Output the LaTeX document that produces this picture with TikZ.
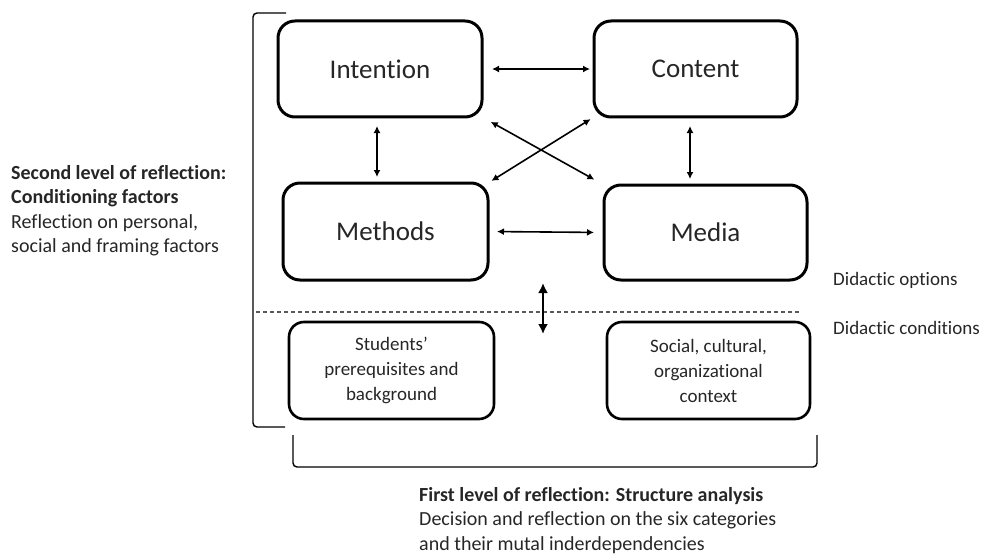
\documentclass[tikz,border=0pt]{standalone}
\usepackage{fontspec}
\setmainfont{Carlito}[Ligatures=NoCommon]
\usetikzlibrary{arrows.meta}
\begin{document}
\begin{tikzpicture}[x=1pt,y=-1pt,
  bigbox/.style={draw=black, line width=3pt, rounded corners=17pt, outer sep=0pt, inner sep=0pt,
    font=\fontsize{27}{32}\selectfont, text=black!85},
  smallbox/.style={draw=black, line width=2.6pt, rounded corners=15pt, outer sep=0pt, inner sep=0pt,
    align=center, font=\fontsize{19}{25}\selectfont, text=black!85},
  arr/.style={line width=1.6pt, {Latex[length=7pt,width=7pt]}-{Latex[length=7pt,width=7pt]}},
  bigarr/.style={line width=2.4pt, {Latex[length=10pt,width=10pt]}-{Latex[length=10pt,width=10pt]}},
  bracket/.style={line width=1.4pt, rounded corners=4pt},
  sidetext/.style={inner sep=0pt, align=left, text=black!85, font=\fontsize{20}{24.5}\selectfont},
  labeltext/.style={inner sep=0pt, align=left, text=black!85, font=\fontsize{19}{24}\selectfont},
]
\useasboundingbox (0,0) rectangle (992,559);

% top-level category boxes
\node[bigbox, minimum width=204pt, minimum height=96pt] (intention) at (380,69) {Intention};
\node[bigbox, minimum width=203pt, minimum height=96pt] (content) at (695.5,69) {Content};
\node[bigbox, minimum width=205pt, minimum height=97pt] (methods) at (385.5,231.5) {Methods};
\node[bigbox, minimum width=203pt, minimum height=95pt] (media) at (705.5,232.5) {Media};

% conditions boxes
\node[smallbox, minimum width=205pt, minimum height=97pt] (students) at (391.5,370.5)
  {Students’\\prerequisites and\\background};
\node[smallbox, minimum width=203pt, minimum height=97pt] (social) at (708.5,370.5)
  {Social, cultural,\\organizational\\context};

% connectors between categories
\draw[arr, shorten <=10pt, shorten >=4pt] (intention.east) -- (content.west);
\draw[arr, shorten <=9pt, shorten >=10pt] (methods.east) -- (media.west);
\draw[arr, shorten <=9pt, shorten >=6pt] ([xshift=-3pt]intention.south) -- ([xshift=-3pt]intention.south |- methods.north);
\draw[arr, shorten <=9pt, shorten >=6pt] ([xshift=-5.5pt]content.south) -- ([xshift=-5.5pt]content.south |- media.north);
\draw[arr, shorten <=10pt, shorten >=11pt] (intention.south east) -- (media.north west);
\draw[arr, shorten <=4pt, shorten >=4pt] (content.south west) -- (methods.north east);

% separation between options and conditions
\coordinate (dl) at (256,312);
\coordinate (dr) at (800,312);
\draw[black!65, line width=1.1pt, dash pattern=on 4pt off 3pt] (dl) -- (dr);
\coordinate (opt) at (543,283);
\coordinate (cond) at (543,334);
\draw[bigarr] (opt) -- (cond);

% brackets
\coordinate (lb1) at (286,13);
\coordinate (lb2) at (253,13);
\coordinate (lb3) at (253,427);
\coordinate (lb4) at (285,427);
\draw[bracket] (lb1) -- (lb2) -- (lb3) -- (lb4);
\coordinate (bb1) at (293,435);
\coordinate (bb2) at (293,467);
\coordinate (bb3) at (817,467);
\coordinate (bb4) at (817,435);
\draw[bracket] (bb1) -- (bb2) -- (bb3) -- (bb4);

% texts
\node[sidetext, anchor=north west] (second) at (11,165)
  {\textbf{Second level of reflection:}\\\textbf{Conditioning factors}\\Reflection on personal,\\social and framing factors};
\node[labeltext, anchor=west] (options) at (833,280) {Didactic options};
\node[labeltext, anchor=west] (conditions) at (833,328) {Didactic conditions};
\node[sidetext, anchor=north west] (first) at (419,487)
  {\textbf{First level of reflection: Structure analysis}\\Decision and reflection on the six categories\\and their mutal inderdependencies};
\end{tikzpicture}
\end{document}
